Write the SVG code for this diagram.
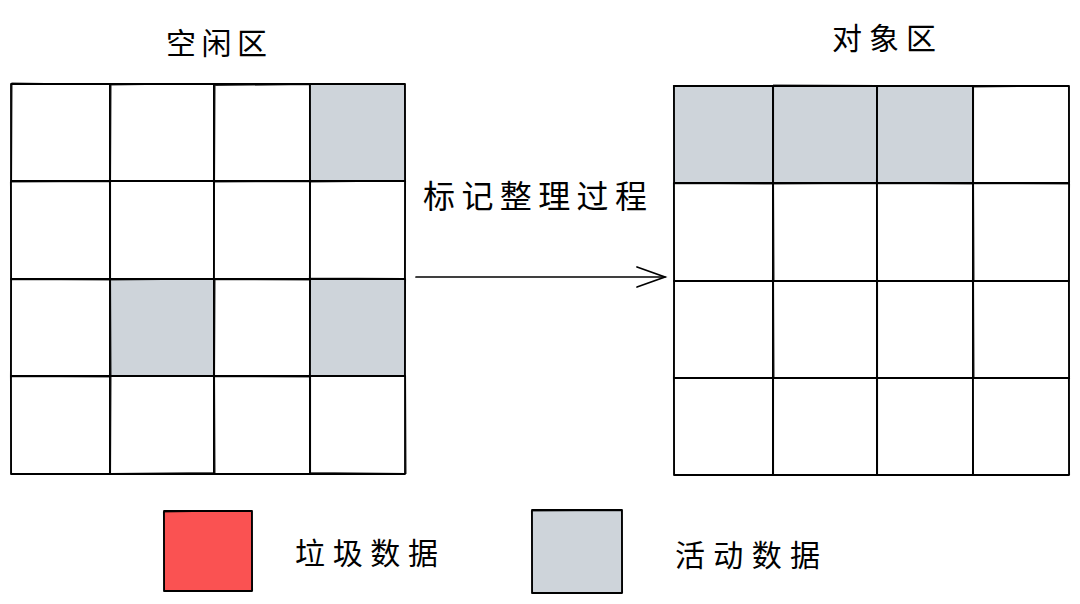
<svg xmlns="http://www.w3.org/2000/svg" width="1080" height="604" viewBox="0 0 1080 604">
<style>
.c{fill:#ffffff;stroke:#000000;stroke-width:1.8;stroke-linejoin:round}
.g{fill:#ced4da}
.r{fill:#fa5252}
.s{fill:none;stroke:#000000;stroke-width:1.1;opacity:0.85}
.t{font-family:"Noto Sans CJK SC","Noto Sans",sans-serif;font-size:30px;fill:#000000}
.ln{fill:none;stroke:#000000;stroke-width:1.7;stroke-linecap:round}
</style>
<rect width="1080" height="604" fill="#ffffff"/>
<g id="left-grid">
<g id="L00"><rect class="c" x="11" y="84" width="99" height="97"/><path class="s" d="M12,83 L110.5,84.5 L109.5,181.5 L11.5,182.5 Z"/></g>
<g id="L01"><rect class="c" x="110" y="84" width="104" height="97"/><path class="s" d="M111,85 L214.5,83.5 L213.5,180.5 L110.5,181.5 Z"/></g>
<g id="L02"><rect class="c" x="214" y="84" width="96" height="97"/><path class="s" d="M215,85.5 L309.5,84.5 L310.5,181.5 L214.5,180.5 Z"/></g>
<g id="L03"><rect class="c g" x="310" y="84" width="95" height="97"/><path class="s" d="M309.5,84.5 L404.5,84 L405.5,181 L310.5,182 Z"/></g>
<g id="L10"><rect class="c" x="11" y="181" width="99" height="98"/><path class="s" d="M10.5,182 L109.5,181.5 L110.5,278.5 L11.5,279.5 Z"/></g>
<g id="L11"><rect class="c" x="110" y="181" width="104" height="98"/><path class="s" d="M110.5,181.5 L213.5,181 L214.5,278.5 L110.5,279.5 Z"/></g>
<g id="L12"><rect class="c" x="214" y="181" width="96" height="98"/><path class="s" d="M214.5,182 L310.5,181.5 L309.5,278.5 L213.5,279.5 Z"/></g>
<g id="L13"><rect class="c" x="310" y="181" width="95" height="98"/><path class="s" d="M310.5,182 L405.5,181 L404.5,278.5 L309.5,278 Z"/></g>
<g id="L20"><rect class="c" x="11" y="279" width="99" height="97"/><path class="s" d="M11.5,279.5 L110.5,280 L109.5,376.5 L10.5,375.5 Z"/></g>
<g id="L21"><rect class="c g" x="110" y="279" width="104" height="97"/><path class="s" d="M110.5,280 L214.5,279 L213.5,376 L111,376.5 Z"/></g>
<g id="L22"><rect class="c" x="214" y="279" width="96" height="97"/><path class="s" d="M215,279.5 L310.5,280 L309.5,376.5 L214.5,375.5 Z"/></g>
<g id="L23"><rect class="c g" x="310" y="279" width="95" height="97"/><path class="s" d="M310.5,278.5 L405.5,279.5 L404.5,376.5 L309.5,376 Z"/></g>
<g id="L30"><rect class="c" x="11" y="376" width="99" height="98"/><path class="s" d="M10.5,376.5 L110.5,377 L109.5,474.5 L11.5,473.5 Z"/></g>
<g id="L31"><rect class="c" x="110" y="376" width="104" height="98"/><path class="s" d="M111,376.5 L213.5,375.5 L214.5,472.5 L110.5,473.5 Z"/></g>
<g id="L32"><rect class="c" x="214" y="376" width="96" height="98"/><path class="s" d="M214.5,376.5 L309.5,377 L310.5,474.5 L215,473.5 Z"/></g>
<g id="L33"><rect class="c" x="310" y="376" width="95" height="98"/><path class="s" d="M310.5,375.5 L405.5,376.5 L406,473.5 L310.5,472.5 Z"/></g>
</g>
<g id="right-grid">
<g id="R00"><rect class="c g" x="674" y="86" width="99" height="97"/><path class="s" d="M673.5,85.5 L772.5,86.5 L773.5,183.5 L674.5,182.5 Z"/></g>
<g id="R01"><rect class="c g" x="773" y="86" width="104" height="97"/><path class="s" d="M773.5,85 L877.5,85.5 L876.5,182.5 L773.5,183.5 Z"/></g>
<g id="R02"><rect class="c g" x="877" y="86" width="96" height="97"/><path class="s" d="M877.5,86.5 L972.5,85.5 L973.5,182.5 L877,183.5 Z"/></g>
<g id="R03"><rect class="c" x="973" y="86" width="96" height="97"/><path class="s" d="M973.5,87 L1068.5,86 L1069.5,183 L973.5,182.5 Z"/></g>
<g id="R10"><rect class="c" x="674" y="183" width="99" height="98"/><path class="s" d="M673.5,183.5 L773.5,184 L772.5,280.5 L674.5,281.5 Z"/></g>
<g id="R11"><rect class="c" x="773" y="183" width="104" height="98"/><path class="s" d="M773.5,184 L876.5,183.5 L877.5,280.5 L774,281.5 Z"/></g>
<g id="R12"><rect class="c" x="877" y="183" width="96" height="98"/><path class="s" d="M876.5,183.5 L973.5,184 L972.5,281.5 L877.5,280.5 Z"/></g>
<g id="R13"><rect class="c" x="973" y="183" width="96" height="98"/><path class="s" d="M973.5,183.5 L1069.5,184 L1068.5,281 L974,280.5 Z"/></g>
<g id="R20"><rect class="c" x="674" y="281" width="99" height="97"/><path class="s" d="M674.5,281.5 L773.5,280.5 L772.5,378.5 L673.5,377.5 Z"/></g>
<g id="R21"><rect class="c" x="773" y="281" width="104" height="97"/><path class="s" d="M773.5,280.5 L877.5,281 L876.5,377.5 L774,378.5 Z"/></g>
<g id="R22"><rect class="c" x="877" y="281" width="96" height="97"/><path class="s" d="M877.5,281.5 L972.5,281 L973.5,377.5 L877.5,378.5 Z"/></g>
<g id="R23"><rect class="c" x="973" y="281" width="96" height="97"/><path class="s" d="M973.5,281 L1068.5,281.5 L1069.5,378.5 L974,377.5 Z"/></g>
<g id="R30"><rect class="c" x="674" y="378" width="99" height="97"/><path class="s" d="M673.5,378.5 L773.5,377.5 L772.5,475.5 L674.5,474.5 Z"/></g>
<g id="R31"><rect class="c" x="773" y="378" width="104" height="97"/><path class="s" d="M773.5,378.5 L876.5,377.5 L877.5,474.5 L773.5,475.5 Z"/></g>
<g id="R32"><rect class="c" x="877" y="378" width="96" height="97"/><path class="s" d="M877.5,378.5 L973.5,377.5 L972.5,475.5 L877.5,474.5 Z"/></g>
<g id="R33"><rect class="c" x="973" y="378" width="96" height="97"/><path class="s" d="M972.5,377.5 L1068.5,378.5 L1069.5,474.5 L973.5,475.5 Z"/></g>
</g>
<g id="titles">
<g id="title-free"><text class="t" x="166" y="54" textLength="101" lengthAdjust="spacing">空闲区</text></g>
<g id="title-object"><text class="t" x="832" y="49" textLength="104" lengthAdjust="spacing">对象区</text></g>
</g>
<g id="connectors">
<path class="ln" d="M416,277 L665,277"/>
<path class="ln" d="M637,267 L665,277 L637,287"/>
<text class="t" x="423" y="208" textLength="224" lengthAdjust="spacing" style="font-size:32px">标记整理过程</text>
</g>
<g id="legend-garbage">
<rect class="c r" x="164" y="511" width="88" height="80"/>
<path class="s" d="M163.5,512 L251.5,510.5 L252.5,590.5 L164.5,591.5 Z"/>
<text class="t" x="295" y="564" textLength="143" lengthAdjust="spacing">垃圾数据</text>
</g>
<g id="legend-live">
<rect class="c g" x="532" y="510" width="90" height="83"/>
<path class="s" d="M531.5,511 L621.5,510.5 L622.5,592.5 L532.5,593.5 Z"/>
<text class="t" x="675" y="566" textLength="145" lengthAdjust="spacing">活动数据</text>
</g>
</svg>
